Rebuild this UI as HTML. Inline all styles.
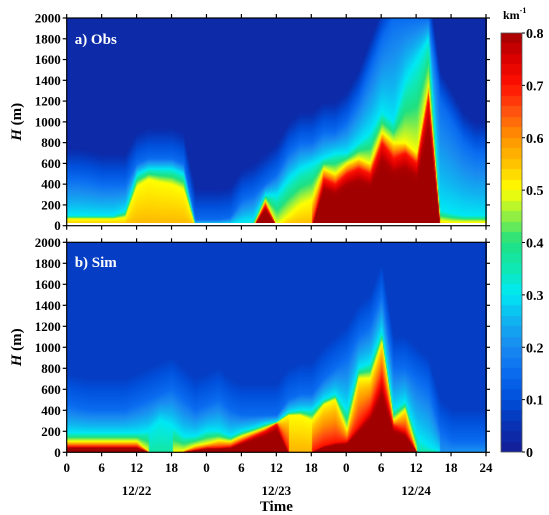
<!DOCTYPE html>
<html><head><meta charset="utf-8"><style>
html,body{margin:0;padding:0;background:#fff;width:549px;height:515px;overflow:hidden}
#wrap{position:relative;width:549px;height:515px}
canvas{position:absolute}
svg{position:absolute;left:0;top:0}
text{font-family:"Liberation Serif",serif;font-weight:bold;fill:#000}
</style></head><body>
<div id="wrap">
<canvas id="ca" width="420" height="205" style="left:67px;top:18px"></canvas>
<canvas id="cb" width="420" height="210" style="left:67px;top:242px"></canvas>
<canvas id="cbar" width="21" height="419" style="left:501px;top:33px"></canvas>
<svg id="ax" width="549" height="515"></svg>
</div>
<script>
// time axis: hours 0..72 every 2h
const times = [0,2,4,6,8,10,12,14,16,18,20,22,24,26,28,30,32,34,36,38,40,42,44,46,48,50,52,54,56,58,60,62,64,66,68,70,72];
// Obs heights (m) where value falls to 0.7 / 0.5 / 0.3 / 0.15
const obsRed   = [0,0,0,0,0,0,0,0,0,0,0,0,0,0,0,0,0,200,0,0,0,0,450,400,500,550,500,800,650,700,600,1250,0,0,0,0,0];
const obsYel   = [70,70,70,70,70,80,380,450,420,400,350,0,0,0,0,0,0,250,0,100,200,250,550,500,600,650,600,900,800,800,700,1350,50,40,40,40,40];
const obsCyan  = [100,100,100,100,100,150,500,550,550,550,500,20,20,20,20,40,60,300,300,450,550,600,650,700,700,800,900,1100,1000,1400,1600,1800,150,120,100,100,100];
const obsLight = [450,450,430,400,400,400,600,650,650,650,600,60,60,60,80,250,300,400,500,700,800,800,900,900,1000,1200,1500,1800,2000,2000,2000,2000,1200,1000,800,700,700];
// Sim heights
const simRed   = [50,50,50,50,50,50,50,0,0,0,0,20,40,40,50,100,150,200,270,0,0,0,60,90,100,250,400,700,250,200,0,0,0,0,0,0,0];
const simYel   = [100,100,100,100,100,100,100,0,0,0,10,60,80,110,100,150,190,230,280,350,350,300,450,500,200,700,700,1050,300,400,0,0,0,0,0,0,0];
const simCyan  = [180,180,180,180,180,180,180,200,300,250,150,150,200,200,150,200,230,270,290,380,400,400,500,550,400,800,850,1150,400,480,150,50,0,0,0,0,0];
const simLight = [450,420,400,400,400,400,450,500,550,600,500,400,450,500,400,350,350,350,350,500,550,550,700,800,900,1100,1200,1500,800,800,700,600,200,100,100,100,100];
const cbTicks = [0,0.1,0.2,0.3,0.4,0.5,0.6,0.7,0.8];
const yTicks = [0,200,400,600,800,1000,1200,1400,1600,1800,2000];
const xTickLabels = ["0","6","12","18","0","6","12","18","0","6","12","18","24"];
const dateLabels = ["12/22","12/23","12/24"];

const stops=[[0,[20,30,150]],[0.05,[8,50,180]],[0.1,[0,80,220]],[0.15,[10,108,240]],[0.2,[26,140,240]],[0.25,[16,180,240]],[0.3,[0,232,244]],[0.35,[16,232,176]],[0.4,[32,224,128]],[0.45,[150,240,64]],[0.5,[255,255,0]],[0.55,[255,192,0]],[0.6,[255,144,0]],[0.65,[255,80,16]],[0.7,[255,16,0]],[0.75,[216,0,0]],[0.8,[160,0,0]]];
function cmap(v){v=Math.max(0,Math.min(0.8,v));for(let i=1;i<stops.length;i++){if(v<=stops[i][0]){const a=stops[i-1],b=stops[i],f=(v-a[0])/(b[0]-a[0]);return a[1].map((c,k)=>Math.round(c+(b[1][k]-c)*f));}}return stops[stops.length-1][1];}
function lerpArr(arr,t){const i=Math.min(times.length-2,Math.floor(t/2));const f=(t-times[i])/2;return arr[i]+(arr[i+1]-arr[i])*f;}
function profile(h,hr,hy,hc,hl,bg){
  const lv=[0.7,0.5,0.3,0.15],hs=[hr,hy,hc,hl];let pts=[];let prev=0;
  for(let k=0;k<4;k++){if(hs[k]>prev+1){pts.push([hs[k],lv[k]]);prev=hs[k];}}
  if(!pts.length) return bg+0.02;
  let g;
  if(pts[0][1]===0.7){g=0.85;pts.unshift([pts[0][0]*0.8,0.79]);}
  else g=pts[0][1]+0.06;
  pts.unshift([0,g]);pts.push([prev+300,bg]);
  for(let k=1;k<pts.length;k++){if(h<=pts[k][0]){const f=(h-pts[k-1][0])/(pts[k][0]-pts[k-1][0]);return pts[k-1][1]+(pts[k][1]-pts[k-1][1])*f;}}
  return bg;}
function draw(id,R,Y,C,L,bg,H0,Htot){
  const cv=document.getElementById(id),ctx=cv.getContext('2d'),W=cv.width,Hh=cv.height;
  const img=ctx.createImageData(W,Hh);
  for(let x=0;x<W;x++){const t=(x+0.5)/W*72;const hr=lerpArr(R,t),hy=lerpArr(Y,t),hc=lerpArr(C,t),hl=lerpArr(L,t);
    for(let y=0;y<Hh;y++){const h=H0+(Hh-y-0.5)/Hh*Htot;let v=profile(h,hr,hy,hc,hl,bg);
      if(id==='ca'&&h<30)v=0.1;
      const c=cmap(v);const o=(y*W+x)*4;img.data[o]=c[0];img.data[o+1]=c[1];img.data[o+2]=c[2];img.data[o+3]=255;}}
  ctx.putImageData(img,0,0);}
draw('ca',obsRed,obsYel,obsCyan,obsLight,0.03,30,1970);
draw('cb',simRed,simYel,simCyan,simLight,0.07,0,2000);
(function(){const cv=document.getElementById('cbar'),ctx=cv.getContext('2d');for(let y=0;y<cv.height;y++){const v=Math.floor((1-(y+0.5)/cv.height)*0.8*50)/50+0.008;const c=cmap(v);ctx.fillStyle=`rgb(${c})`;ctx.fillRect(0,y,cv.width,1);}})();

const NS='http://www.w3.org/2000/svg',svg=document.getElementById('ax');
function el(tag,attrs,txt){const e=document.createElementNS(NS,tag);for(const k in attrs)e.setAttribute(k,attrs[k]);if(txt!==undefined)e.textContent=txt;svg.appendChild(e);return e;}
const X0=66.7,X1=486;const xs=t=>X0+(X1-X0)*t/72;
const panels=[{top:18,bot:225.7,lab:"a) Obs",ly:44,n:'obs'},{top:242.3,bot:452.3,lab:"b) Sim",ly:267,n:'sim'}];
panels.forEach(p=>{
  const ys=h=>p.bot-(p.bot-p.top)*h/2000;
  let r=el('rect',{x:X0,y:p.top,width:X1-X0,height:p.bot-p.top,fill:'none',stroke:'#000','stroke-width':1.2});
  
  yTicks.forEach(v=>{const y=ys(v);el('line',{x1:X0-4,x2:X0,y1:y,y2:y,stroke:'#000','stroke-width':1.2});el('line',{x1:X1,x2:X1+4,y1:y,y2:y,stroke:'#000','stroke-width':1.2});
    const t=el('text',{x:X0-6,y:y+4.5,'text-anchor':'end','font-size':'13px'},String(v));});
  xTickLabels.forEach((s,i)=>{const x=xs(i*6);el('line',{x1:x,x2:x,y1:p.top-4,y2:p.top,stroke:'#000','stroke-width':1.2});el('line',{x1:x,x2:x,y1:p.bot,y2:p.bot+4,stroke:'#000','stroke-width':1.2});});
  const l=el('text',{x:X0+8,y:p.ly,'font-size':'15px',style:'fill:#fff'},p.lab);
  const yt=el('text',{transform:`translate(21,${(p.top+p.bot)/2}) rotate(-90)`,'text-anchor':'middle','font-size':'15px'});
  
  const a=document.createElementNS(NS,'tspan');a.setAttribute('font-style','italic');a.textContent='H';yt.appendChild(a);
  const b=document.createElementNS(NS,'tspan');b.textContent=' (m)';yt.appendChild(b);
});
xTickLabels.forEach((s,i)=>{const t=el('text',{x:xs(i*6),y:472,'text-anchor':'middle','font-size':'13px'},s);});
dateLabels.forEach((s,i)=>{const t=el('text',{x:xs(12+24*i),y:495,'text-anchor':'middle','font-size':'13px'},s);});
const tt=el('text',{x:xs(36),y:511,'text-anchor':'middle','font-size':'15px'},'Time');
el('rect',{x:501,y:33,width:21,height:419,fill:'none',stroke:'#555','stroke-width':0.8});
cbTicks.forEach(v=>{const y=452-419*v/0.8;el('line',{x1:522,x2:525,y1:y,y2:y,stroke:'#000'});const t=el('text',{x:526,y:y+5,'font-size':'14px'},String(v));});
const u=el('text',{x:503,y:19,'font-size':'12px'},'km');
const s=document.createElementNS(NS,'tspan');s.setAttribute('dy','-6');s.setAttribute('font-size','8px');s.textContent='-1';u.appendChild(s);
</script>
</body></html>
